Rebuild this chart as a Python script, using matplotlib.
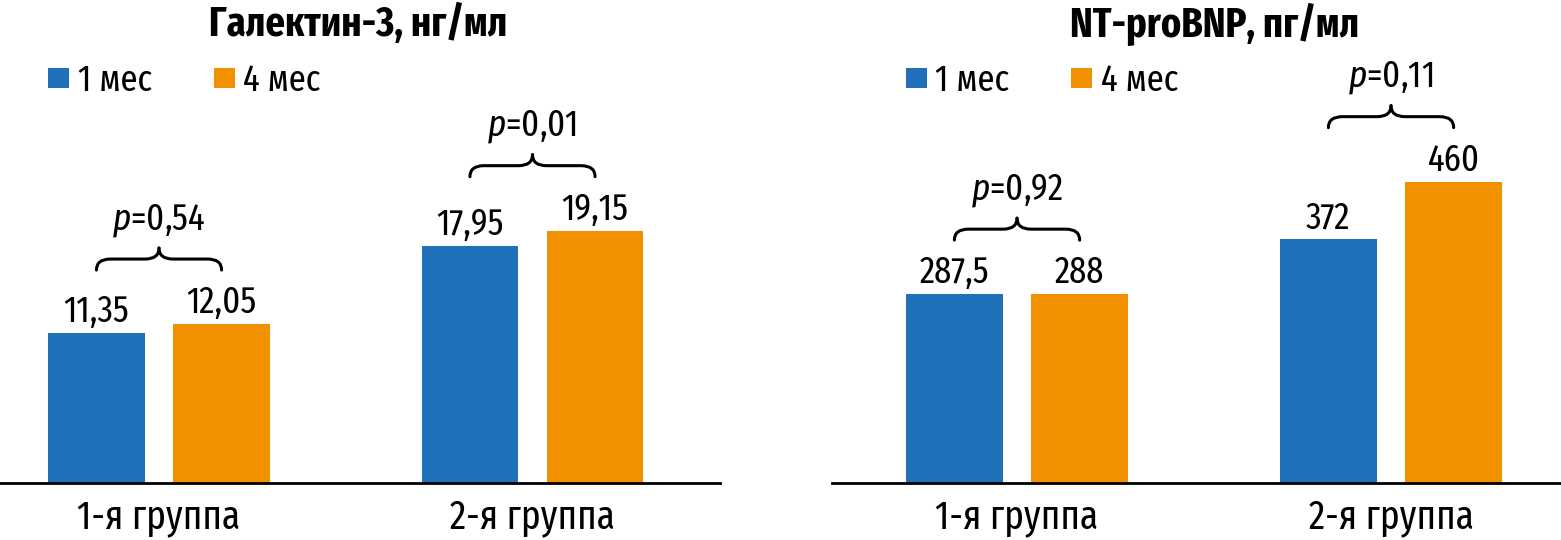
import matplotlib.pyplot as plt
import numpy as np
from matplotlib.path import Path
from matplotlib.patches import PathPatch

FONT = 'Fira Sans Extra Condensed'
plt.rcParams['font.family'] = [FONT, 'DejaVu Sans']
plt.rcParams['mathtext.fontset'] = 'custom'
plt.rcParams['mathtext.it'] = FONT + ':italic'
plt.rcParams['mathtext.rm'] = FONT

# данные
groups = ['1-я группа', '2-я группа']
series = ['1 мес', '4 мес']
gal_1m = [11.35, 17.95]
gal_4m = [12.05, 19.15]
gal_p = ['0,54', '0,01']
bnp_1m = [287.5, 372]
bnp_4m = [288, 460]
bnp_p = ['0,92', '0,11']

blue = '#1f70b8'
orange = '#f29100'

W, H = 1561, 540
fig = plt.figure(figsize=(W / 100, H / 100), dpi=100)

base_px = 482.5
ax1 = fig.add_axes([0 / W, (H - base_px) / H, 720 / W, base_px / H])
ax2 = fig.add_axes([832 / W, (H - base_px) / H, (W - 832) / W, base_px / H])

FS = 27
bw = 0.258
off = 0.1675


def fmt(v):
    return f'{v:g}'.replace('.', ',')


def brace(ax, x0, x1, y0, ppx, ppy):
    # фигурная скобка, открыта вниз; размеры в пикселях
    h1, h, r = 11 / ppy, 22 / ppy, 14 / ppx
    xm = (x0 + x1) / 2
    codes = [Path.MOVETO, Path.CURVE3, Path.CURVE3,
             Path.LINETO, Path.CURVE3, Path.CURVE3]
    for xa, s in ((x0, 1), (x1, -1)):
        verts = [(xa, y0), (xa, y0 + h1), (xa + s * r, y0 + h1),
                 (xm - s * r, y0 + h1), (xm, y0 + h1), (xm, y0 + h)]
        ax.add_patch(PathPatch(Path(verts, codes), fill=False, lw=2.2,
                               edgecolor='black', capstyle='round', joinstyle='round'))
    return y0 + h


def panel(ax, v1, v4, pvals, ymax, xlim, title, title_x):
    x = np.arange(len(groups))
    ax.set_xlim(*xlim)
    ax.set_ylim(0, ymax)
    ax.bar(x - off, v1, bw, color=blue, label=series[0])
    ax.bar(x + off, v4, bw, color=orange, label=series[1])

    ppx = ax.bbox.width / (xlim[1] - xlim[0])
    ppy = ax.bbox.height / ymax

    for i in range(len(groups)):
        ax.text(x[i] - off, v1[i] + 11 / ppy, fmt(v1[i]), ha='center', va='baseline', fontsize=FS)
        ax.text(x[i] + off, v4[i] + 11 / ppy, fmt(v4[i]), ha='center', va='baseline', fontsize=FS)
        top = max(v1[i], v4[i]) + 54 / ppy
        cusp = brace(ax, x[i] - off, x[i] + off, top, ppx, ppy)
        ax.text(x[i], cusp + 18 / ppy, '$\\mathit{p}$=' + pvals[i], ha='center',
                va='baseline', fontsize=FS)

    for s in ['top', 'right', 'left']:
        ax.spines[s].set_visible(False)
    ax.spines['bottom'].set_linewidth(2)
    ax.set_yticks([])
    ax.set_xticks(x)
    ax.set_xticklabels(groups, fontsize=FS + 2)
    ax.tick_params(axis='x', length=0, pad=11)

    left_px = ax.transData.transform((x[0] - off - bw / 2, 0))[0] - ax.bbox.x0
    ax.legend(loc='upper left', bbox_to_anchor=(left_px / ax.bbox.width, 1 - 63 / base_px),
              ncol=2, frameon=False, fontsize=FS, handlelength=0.56, handleheight=0.42,
              handletextpad=0.22, columnspacing=1.65, borderaxespad=0, borderpad=0)
    fig.text(title_x / W, 1 - 24 / H, title, ha='center', va='center', fontsize=FS + 3,
             fontweight='bold')


panel(ax1, gal_1m, gal_4m, gal_p, base_px / 13.15, (-0.4257, 1.502),
      'Галектин-3, нг/мл', 358)
panel(ax2, bnp_1m, bnp_4m, bnp_p, base_px / 0.654, (-0.4947, 1.4545),
      'NT-proBNP, пг/мл', 1215)

fig.savefig('out.png', dpi=100)
